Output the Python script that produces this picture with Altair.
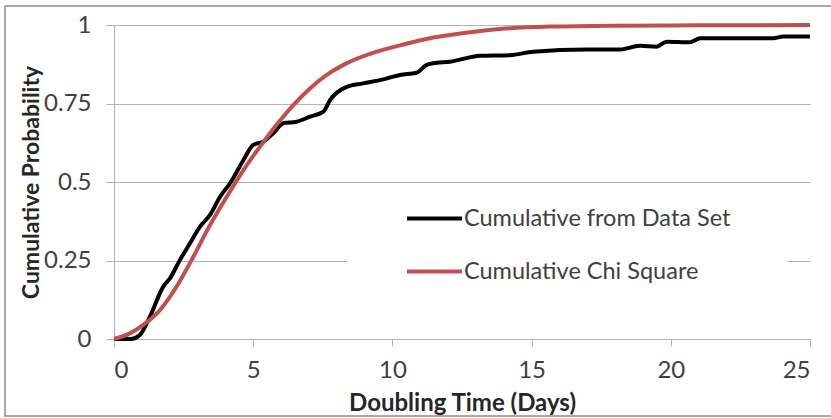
import altair as alt
import pandas as pd

data_x = [0, 0.6, 0.93, 1.29, 1.77, 2.01, 2.37, 2.73, 3.09, 3.45, 3.81, 4.17, 4.65, 5.0, 5.36,
          5.72, 6.08, 6.56, 7.04, 7.52, 7.76, 8.36, 8.95, 9.67, 10.27, 10.87, 11.23, 11.45,
          12.07, 13.15, 14.22, 15.06, 16.98, 18.18, 18.89, 19.49, 19.85, 20.69, 21.05, 23.68,
          24.04, 25]
data_y = [0, 0, 0.013, 0.071, 0.167, 0.193, 0.252, 0.305, 0.358, 0.395, 0.453, 0.496, 0.570,
          0.618, 0.628, 0.655, 0.687, 0.692, 0.708, 0.724, 0.761, 0.803, 0.814, 0.827, 0.841,
          0.848, 0.873, 0.878, 0.883, 0.902, 0.904, 0.915, 0.922, 0.922, 0.934, 0.931, 0.947,
          0.945, 0.958, 0.958, 0.963, 0.963]

# Chi-square cumulative curve
chi_x = [0, 0.57, 1.05, 1.65, 2.25, 2.85, 3.45, 4.05, 4.65, 5.24, 5.84, 6.44, 7.04, 7.64,
         8.24, 9.44, 10.27, 11.35, 12.07, 13.87, 15.66, 18, 21, 25]
chi_y = [0, 0.018, 0.045, 0.092, 0.167, 0.262, 0.363, 0.453, 0.538, 0.612, 0.682, 0.745,
         0.798, 0.841, 0.873, 0.915, 0.935, 0.958, 0.968, 0.987, 0.995, 0.998, 0.999, 1.0]

series_names = ["Cumulative from Data Set", "Cumulative Chi Square"]
series_colors = ["#000000", "#C0504D"]
x_ticks = [0, 5, 10, 15, 20, 25]
y_ticks = [0, 0.25, 0.5, 0.75, 1]

df = pd.concat([
    pd.DataFrame({"x": data_x, "y": data_y, "series": series_names[0], "order": range(len(data_x))}),
    pd.DataFrame({"x": chi_x, "y": chi_y, "series": series_names[1], "order": range(len(chi_x))}),
])

FONT = "Lato"
GRID = "#b3b3b3"

xenc = alt.X("x:Q", scale=alt.Scale(domain=[0, 25], nice=False),
             axis=alt.Axis(values=x_ticks, grid=False, title="Doubling Time (Days)",
                           tickSize=7, labelPadding=12, domainColor=GRID, tickColor=GRID,
                           titleY=71, titleBaseline="alphabetic", titleFontSize=24))
yenc = alt.Y("y:Q", scale=alt.Scale(domain=[0, 1], nice=False),
             axis=alt.Axis(values=y_ticks, labelExpr="toString(datum.value)", grid=True,
                           gridColor=GRID,
                           title="Cumulative Probability", tickSize=8, labelPadding=15,
                           domainColor=GRID, tickColor=GRID,
                           titleX=-76, titleY=157, titleAlign="center",
                           titleBaseline="alphabetic", titleAngle=270))

frame = alt.Chart(pd.DataFrame({"k": [0]})).mark_rect(
    fill=None, stroke="#8c8c8c", strokeWidth=1.5
).encode(x=alt.value(-109), x2=alt.value(745), y=alt.value(-19), y2=alt.value(391))

legend_box = alt.Chart(pd.DataFrame({"k": [0]})).mark_rect(
    fill="white", stroke=None
).encode(x=alt.value(233), x2=alt.value(673), y=alt.value(168), y2=alt.value(280))

lines = alt.Chart(df).mark_line(strokeWidth=4, interpolate="monotone").encode(
    x=xenc, y=yenc,
    color=alt.Color("series:N",
                    scale=alt.Scale(domain=series_names, range=series_colors),
                    sort=series_names,
                    legend=alt.Legend(title=None, orient="none", legendX=291, legendY=164,
                                      symbolType="stroke", symbolSize=3025,
                                      symbolStrokeWidth=4, labelOffset=0, labelLimit=500,
                                      labelFontSize=23.5, labelFont=FONT, labelColor="#404040",
                                      rowPadding=12, padding=0)),
    order="order:Q",
)

chart = alt.layer(frame, legend_box, lines).properties(
    width=696, height=314,
    padding={"left": 114, "top": 25, "right": 21, "bottom": 79},
    autosize=alt.AutoSizeParams(type="none"),
    background="white",
).configure_view(stroke=None).configure_axis(
    labelFont=FONT, labelFontSize=24, labelColor="#404040",
    titleFont=FONT, titleFontSize=23, titleFontWeight="bold", titleColor="#262626",
)

chart.save("out.html", embed_options={"renderer": "svg", "actions": False})
